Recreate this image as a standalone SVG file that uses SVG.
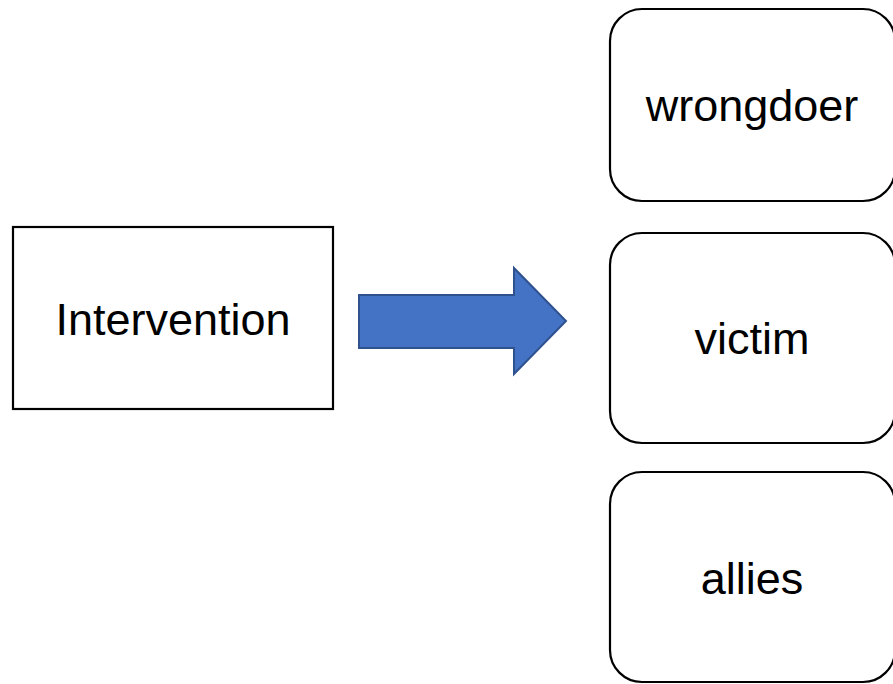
<svg xmlns="http://www.w3.org/2000/svg" width="893" height="684" viewBox="0 0 893 684">
<style>
.box{fill:#fff;stroke:#000;stroke-width:2.2}
.lbl{font-family:"Liberation Sans",Arial,sans-serif;font-size:45px;fill:#000;text-anchor:middle}
.arrow{fill:#4472C4;stroke:#2F528F;stroke-width:2}
</style>
<rect width="893" height="684" fill="#fff"/>
<g id="intervention">
<rect class="box" x="13" y="227" width="320" height="182"/>
<text class="lbl" x="173" y="335">Intervention</text>
</g>
<g id="connectors">
<polygon class="arrow" points="359,295 514,295 514,268 566,321 514,374 514,348 359,348"/>
</g>
<g id="wrongdoer">
<rect class="box" x="610" y="9" width="285" height="192" rx="32" ry="32"/>
<text class="lbl" x="752" y="121">wrongdoer</text>
</g>
<g id="victim">
<rect class="box" x="610" y="233" width="285" height="210" rx="32" ry="32"/>
<text class="lbl" x="752" y="354">victim</text>
</g>
<g id="allies">
<rect class="box" x="610" y="472" width="285" height="210" rx="32" ry="32"/>
<text class="lbl" x="752" y="594">allies</text>
</g>
</svg>
